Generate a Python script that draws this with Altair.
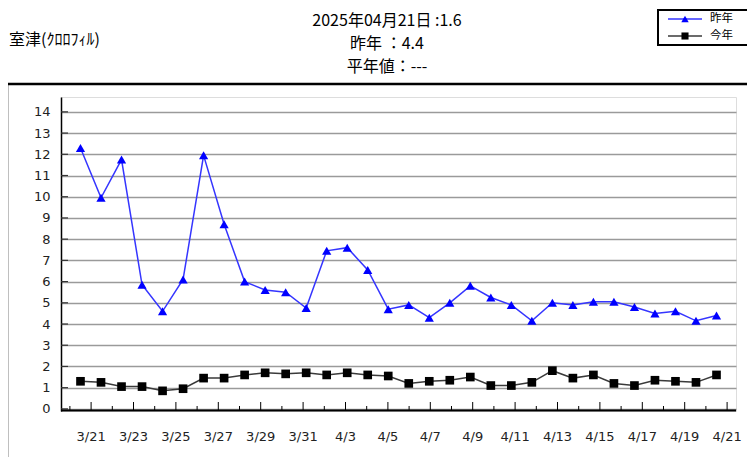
import altair as alt
import pandas as pd

# ---- data ----
dates = ["3/20", "3/21", "3/22", "3/23", "3/24", "3/25", "3/26", "3/27", "3/28", "3/29", "3/30", "3/31",
         "4/2", "4/3", "4/4", "4/5", "4/6", "4/7", "4/8", "4/9", "4/10", "4/11", "4/12", "4/13", "4/14",
         "4/15", "4/16", "4/17", "4/18", "4/19", "4/20", "4/21"]
last_year = [12.3, 9.95, 11.75, 5.85, 4.6, 6.1, 11.95, 8.7, 6.0, 5.6, 5.5, 4.75,
             7.45, 7.6, 6.55, 4.7, 4.9, 4.3, 5.0, 5.8, 5.25, 4.9, 4.15, 5.0, 4.9,
             5.05, 5.05, 4.8, 4.5, 4.6, 4.15, 4.4]
this_year = [1.3, 1.25, 1.05, 1.05, 0.85, 0.95, 1.45, 1.45, 1.6, 1.7, 1.65, 1.7,
             1.6, 1.7, 1.6, 1.55, 1.2, 1.3, 1.35, 1.5, 1.1, 1.1, 1.25, 1.8, 1.45,
             1.6, 1.2, 1.1, 1.35, 1.3, 1.25, 1.6]
y_ticks = list(range(15))
title_lines = ["2025年04月21日 :1.6", "昨年 ：4.4", "平年値：---"]
station = "室津(ｸﾛﾛﾌｨﾙ)"
legend_names = ["昨年", "今年"]

W, H = 675, 314
FONT_JP = "Noto Sans CJK JP"
FONT_AX = "DejaVu Sans"

df_last = pd.DataFrame({"date": dates, "value": last_year})
df_this = pd.DataFrame({"date": dates, "value": this_year})
df_ticks = pd.DataFrame({
    "date": dates,
    "major": [i % 2 == 1 for i in range(len(dates))],
})
df_y = pd.DataFrame({"v": y_ticks})

yscale = alt.Scale(domain=[-0.1, 14.7], nice=False, zero=False)
yaxis = alt.Axis(values=y_ticks, grid=True, gridColor="#9a9a9a", gridWidth=1.5,
                 domainColor="black", domainWidth=1.5, ticks=False,
                 labelFont=FONT_AX, labelFontSize=13, labelColor="#222222",
                 labelPadding=11, title=None)
data_x = alt.X("date:N", sort=dates, scale=alt.Scale(type="point", domain=dates, padding=0.95), axis=None)
tick_x = alt.X("date:N", sort=dates, scale=alt.Scale(type="point", domain=dates, padding=0.42), axis=None)

one = alt.Data(values=[{}])

# y grid / axis
grid = alt.Chart(df_y).mark_rule(color="#333333", strokeWidth=1.2).encode(
    y=alt.Y("v:Q", scale=yscale, axis=yaxis),
    x=alt.value(0), x2=alt.value(7),
)

# bottom axis line
xline = alt.Chart(one).mark_rule(color="black", strokeWidth=2).encode(
    x=alt.value(0), x2=alt.value(W), y=alt.value(H - 0.5)
)

major_ticks = alt.Chart(df_ticks).transform_filter("datum.major").mark_rule(
    color="black", strokeWidth=1).encode(x=tick_x, y=alt.value(H - 9), y2=alt.value(H))
minor_ticks = alt.Chart(df_ticks).transform_filter("!datum.major").mark_rule(
    color="black", strokeWidth=1).encode(x=tick_x, y=alt.value(H - 5), y2=alt.value(H))
tick_labels = alt.Chart(df_ticks).transform_filter("datum.major").mark_text(
    font=FONT_AX, fontSize=13, color="#222222", baseline="middle", align="center").encode(
    x=tick_x, y=alt.value(H + 26), text="date:N")

line_last = alt.Chart(df_last).mark_line(color="#3535ff", strokeWidth=1.5).encode(
    x=data_x, y=alt.Y("value:Q", scale=yscale, axis=yaxis))
pts_last = alt.Chart(df_last).mark_point(shape="triangle-up", filled=True, color="#0000ff",
                                         size=85, opacity=1).encode(
    x=data_x, y=alt.Y("value:Q", scale=yscale, axis=yaxis))
line_this = alt.Chart(df_this).mark_line(color="#3a3a3a", strokeWidth=1.5).encode(
    x=data_x, y=alt.Y("value:Q", scale=yscale, axis=yaxis))
pts_this = alt.Chart(df_this).mark_point(shape="square", filled=True, color="black",
                                         size=75, opacity=1).encode(
    x=data_x, y=alt.Y("value:Q", scale=yscale, axis=yaxis))

# outer frame
frame = alt.Chart(one).mark_rect(fillOpacity=0, stroke="black", strokeWidth=2.5).encode(
    x=alt.value(-54), x2=alt.value(720), y=alt.value(-13), y2=alt.value(420))

# titles
titles = []
for i, t in enumerate(title_lines):
    titles.append(alt.Chart(one).mark_text(font=FONT_JP, fontSize=16, color="black",
                                           align="center", baseline="middle", text=t).encode(
        x=alt.value(326), y=alt.value(-76 + 23 * i)))
station_txt = alt.Chart(one).mark_text(font=FONT_JP, fontSize=16, color="black",
                                       align="left", baseline="middle", text=station).encode(
    x=alt.value(-52), y=alt.value(-57))

# legend
leg_box = alt.Chart(one).mark_rect(fill="white", stroke="black", strokeWidth=2).encode(
    x=alt.value(597), x2=alt.value(691), y=alt.value(-87), y2=alt.value(-52))
leg = [leg_box]
leg_colors = [("#3535ff", "#0000ff", "triangle-up", 55), ("#3a3a3a", "black", "square", 50)]
for i, (name, (lc, mc, shp, sz)) in enumerate(zip(legend_names, leg_colors)):
    yy = -78 + 17 * i
    leg.append(alt.Chart(one).mark_rule(color=lc, strokeWidth=1.5).encode(
        x=alt.value(607), x2=alt.value(641), y=alt.value(yy)))
    leg.append(alt.Chart(one).mark_point(shape=shp, filled=True, color=mc, size=sz, opacity=1).encode(
        x=alt.value(624), y=alt.value(yy)))
    leg.append(alt.Chart(one).mark_text(font=FONT_JP, fontSize=11.5, color="black", align="left",
                                        baseline="middle", text=name).encode(
        x=alt.value(649), y=alt.value(yy)))

chart = alt.layer(
    grid, xline, major_ticks, minor_ticks, tick_labels,
    line_last, pts_last, line_this, pts_this,
    frame, *titles, station_txt, *leg,
).resolve_scale(x="independent").properties(
    width=W, height=H,
    autosize=alt.AutoSizeParams(type="none"),
    padding={"left": 53, "top": 89, "right": 11, "bottom": 46},
).configure_view(stroke=None).configure(background="white")

chart.save("out.html", embed_options={"renderer": "svg", "actions": False})
